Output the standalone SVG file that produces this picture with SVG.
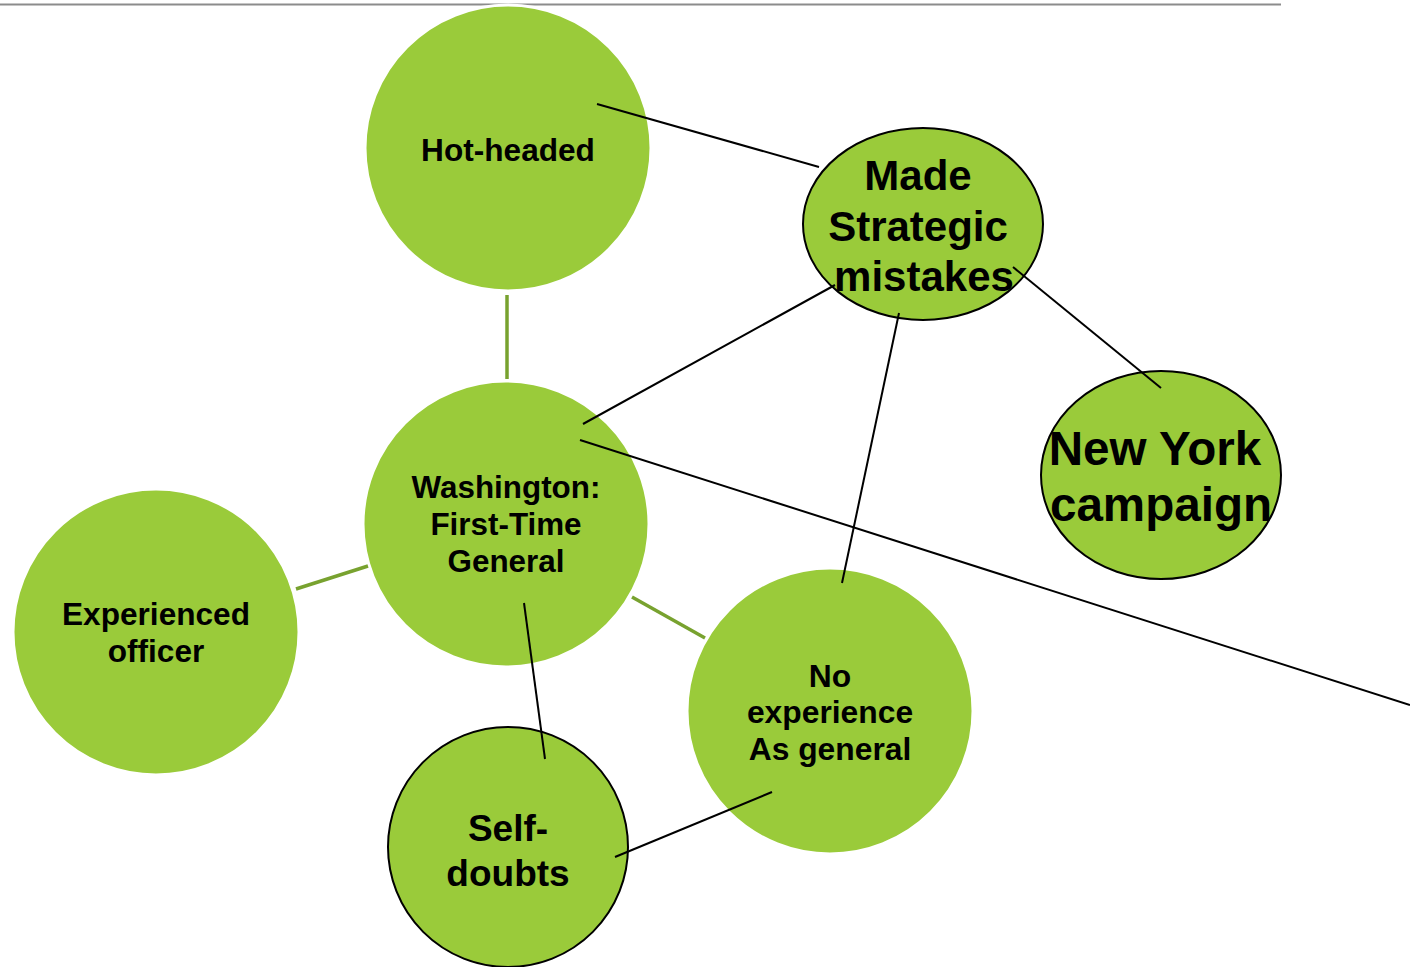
<svg xmlns="http://www.w3.org/2000/svg" width="1410" height="967" viewBox="0 0 1410 967">
<style>
.g{fill:#9ACB3A;stroke:#fff;stroke-width:3}
.gb{fill:#9ACB3A;stroke:#000;stroke-width:2}
text{font-family:"Liberation Sans",Arial,sans-serif;font-weight:bold;fill:#000;text-anchor:middle}
.bl{stroke:#000;stroke-width:2;fill:none}
.gl{stroke:#78A22F;stroke-width:3.5;fill:none}
</style>
<rect width="1410" height="967" fill="#fff"/>
<line x1="0" y1="4.5" x2="1281" y2="4.5" stroke="#8c8c8c" stroke-width="2"/>
<g id="hot-headed">
<circle class="g" cx="508" cy="148" r="143"/>
<text x="508" y="161" font-size="31.6">Hot-headed</text>
</g>
<g id="made-strategic-mistakes">
<ellipse class="gb" cx="923" cy="224" rx="120" ry="96"/>
<text font-size="42"><tspan x="918" y="190">Made</tspan><tspan x="918" y="241">Strategic</tspan><tspan x="924" y="291">mistakes</tspan></text>
</g>
<g id="new-york-campaign">
<ellipse class="gb" cx="1161" cy="475" rx="120" ry="104"/>
<text font-size="47.6"><tspan x="1155" y="465">New York</tspan><tspan x="1161" y="521">campaign</tspan></text>
</g>
<g id="washington">
<circle class="g" cx="506" cy="524" r="143"/>
<text font-size="31.4"><tspan x="506" y="498">Washington:</tspan><tspan x="506" y="535">First-Time</tspan><tspan x="506" y="572">General</tspan></text>
</g>
<g id="experienced-officer">
<circle class="g" cx="156" cy="632" r="143"/>
<text font-size="31.6"><tspan x="156" y="625">Experienced</tspan><tspan x="156" y="662">officer</tspan></text>
</g>
<g id="no-experience">
<circle class="g" cx="830" cy="711" r="143"/>
<text font-size="31.8"><tspan x="830" y="687">No</tspan><tspan x="830" y="723">experience</tspan><tspan x="830" y="760">As general</tspan></text>
</g>
<g id="self-doubts">
<circle class="gb" cx="508" cy="847" r="120"/>
<text font-size="37"><tspan x="508" y="841">Self-</tspan><tspan x="508" y="886">doubts</tspan></text>
</g>
<g id="connectors">
<line class="bl" x1="597" y1="104" x2="819" y2="167"/>
<line class="gl" x1="507" y1="295" x2="507" y2="379"/>
<line class="bl" x1="583" y1="424" x2="835" y2="285"/>
<line class="bl" x1="1013" y1="267" x2="1161" y2="388"/>
<line class="bl" x1="899" y1="313" x2="842" y2="583"/>
<line class="bl" x1="580" y1="440" x2="1410" y2="705"/>
<line class="gl" x1="296" y1="589" x2="368" y2="566"/>
<line class="gl" x1="632" y1="597" x2="705" y2="638"/>
<line class="bl" x1="524" y1="603" x2="545" y2="759"/>
<line class="bl" x1="615" y1="857" x2="772" y2="792"/>
</g>
</svg>
